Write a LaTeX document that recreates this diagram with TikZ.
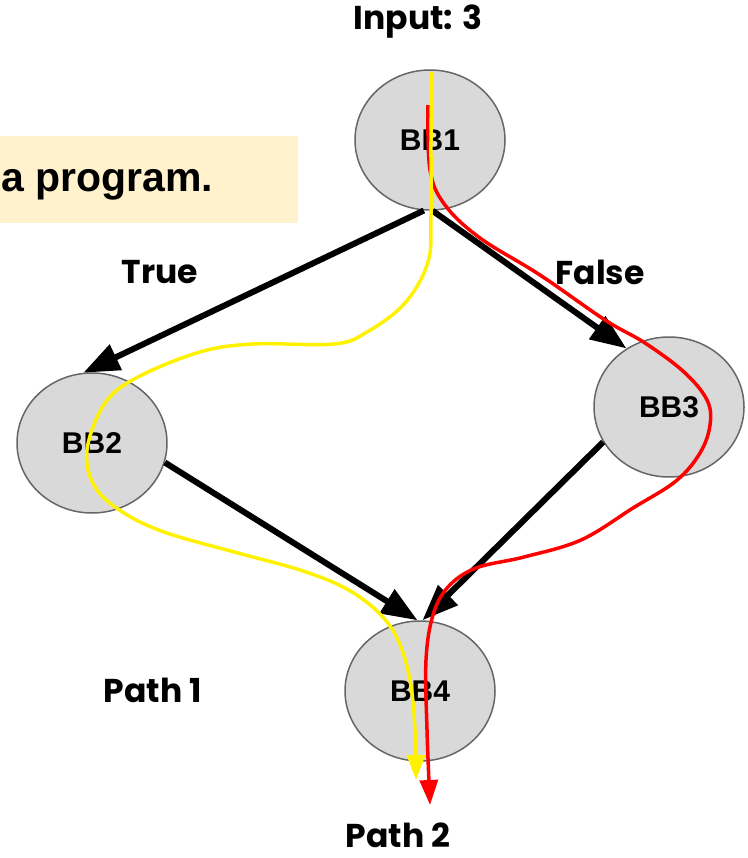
\documentclass[tikz,border=0pt]{standalone}
\usepackage{fontspec}
\setmainfont{Liberation Sans}
\newfontfamily\capfont{Poppins}
\usetikzlibrary{arrows.meta, shapes.geometric}

\definecolor{blockgray}{HTML}{D9D9D9}
\definecolor{edgegray}{HTML}{666666}
\definecolor{notefill}{HTML}{FFF2CC}

\begin{document}
\begin{tikzpicture}[x=1pt, y=-1pt,
    block/.style={ellipse, draw=edgegray, line width=1.5pt, fill=blockgray,
      minimum width=150pt, minimum height=140pt, inner sep=0pt,
      font=\fontsize{30}{30}\selectfont\bfseries},
    caption/.style={font=\capfont\fontsize{33}{33}\selectfont\bfseries, inner sep=0pt},
    flow/.style={line width=6pt, -{Triangle[length=36pt, width=27pt]}},
    trace/.style={line width=3.5pt, -{Triangle[length=25pt, width=18pt]}}]
  \useasboundingbox (0,0) rectangle (747,858);

  % Note box at the left edge
  \fill[notefill] (0,136) rectangle (298,223);
  \node[anchor=base west, inner sep=0pt, font=\fontsize{41}{41}\selectfont\bfseries]
    (note) at (1,192) {a program.};

  % Basic blocks
  \node[block] (BB1) at (430,140) {BB1};
  \node[block] (BB2) at (92,443) {BB2};
  \node[block] (BB3) at (669,407) {BB3};
  \node[block] (BB4) at (420,691) {BB4};

  % Labels
  \node[caption] (input) at (418,22) {Input: 3};
  \node[caption] (true) at (160,272) {True};
  \node[caption] (false) at (600,272) {False};
  \node[caption] (path1) at (153,690) {Path 1};
  \node[caption] (path2) at (398,835) {Path 2};

  % Control flow edges
  \draw[flow] (BB1.265) -- (BB2.97);
  \draw[flow] (BB1.272) -- (BB3.126);
  \draw[flow] (BB2.-15) -- (BB4.92);
  \draw[flow] (BB3.208) -- (BB4.88);

  % Path 2 (red) and path 1 (yellow)
  \coordinate (rin) at (428,105);
  \coordinate (rout) at (430,805);
  \coordinate (yin) at (432,72);
  \coordinate (yout) at (416,780);

  \draw[trace, red] plot[smooth, tension=0.6] coordinates {(rin) (430,170) (445,205)
    (480,238) (540,275) (605,320) (645,343) (684,372) (707,400) (710,425) (700,453)
    (676,481) (633,508) (581,540) (524,557) (476,568) (448,587) (433,615) (426,660)
    (427,730) (rout)};

  \draw[trace, yellow] plot[smooth, tension=0.6] coordinates {(yin) (431,140) (431,215)
    (428,262) (405,303) (367,332) (334,344) (253,344) (200,352) (138,377) (105,403)
    (87,450) (95,487) (124,513) (167,533) (238,553) (300,570) (345,588) (378,612)
    (398,640) (410,680) (415,730) (yout)};
\end{tikzpicture}
\end{document}
